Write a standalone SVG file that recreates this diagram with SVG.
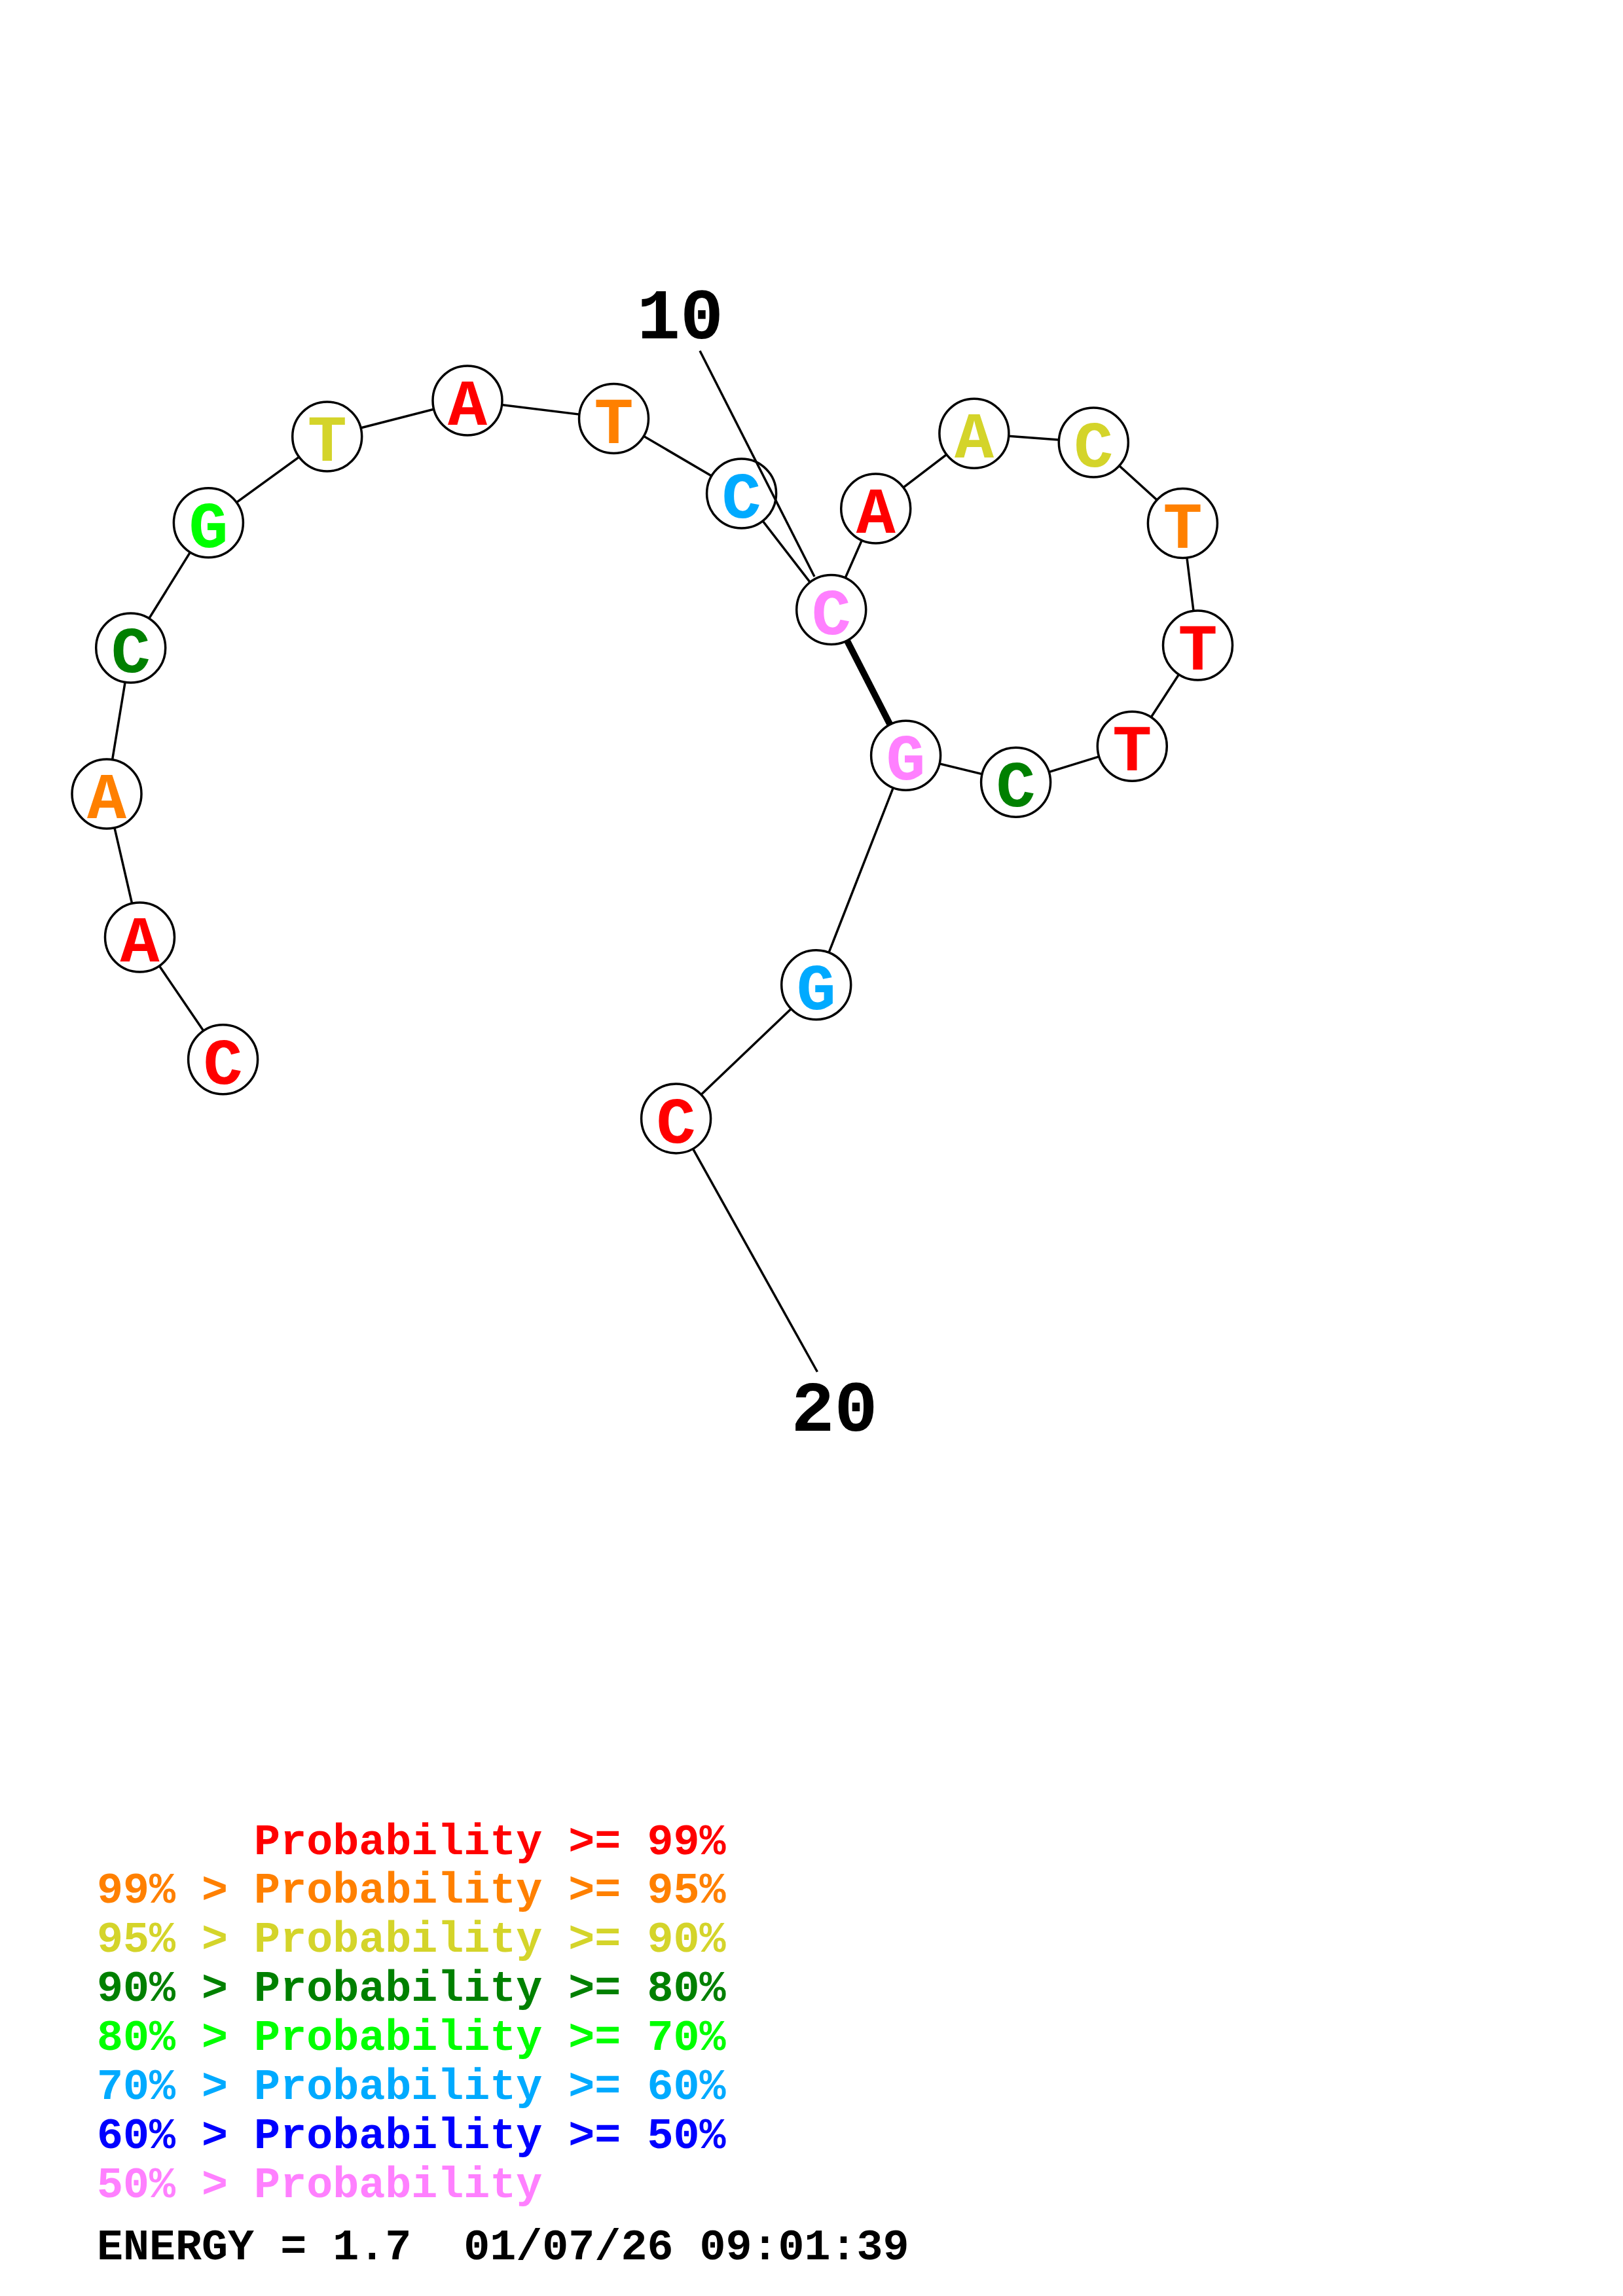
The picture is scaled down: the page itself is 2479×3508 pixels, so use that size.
<svg xmlns="http://www.w3.org/2000/svg" width="2479" height="3508" viewBox="0 0 2479 3508">
<style>
.bg{fill:#ffffff}
.ln{stroke:#000;stroke-width:3.5;fill:none}
.pair{stroke:#000;stroke-width:10;fill:none}
.nd circle{fill:#fff;stroke:#000;stroke-width:3.5}
.nd text{font-family:"Liberation Mono","Courier New",monospace;font-weight:bold;font-size:100px;text-anchor:middle}
.lbl{font-family:"Liberation Mono","Courier New",monospace;font-weight:bold;font-size:110px;text-anchor:middle;fill:#000}
.lg{font-family:"Liberation Mono","Courier New",monospace;font-weight:bold;font-size:66.7px;white-space:pre}
.r{fill:#ff0000}.o{fill:#ff8000}.y{fill:#d4d42a}.g{fill:#008000}.l{fill:#00ff00}.c{fill:#00aaff}.b{fill:#0000ff}.p{fill:#ff80ff}.k{fill:#000}
</style>
<rect class="bg" x="0" y="0" width="2479" height="3508"/>
<g id="connectors">
<polyline class="ln" points="340.6,1618.7 213.5,1432 163,1213 199.7,990 318.4,798.8 499.7,667 714,612 937.5,639.6 1132.6,754 1269.7,931.6 1337.7,777 1487.9,662.3 1670.3,676 1806.4,799.5 1829.5,986 1729.3,1140.3 1551.6,1195.2 1383.6,1154.2 1246.7,1504.8 1032.6,1708.9"/>
<line class="pair" x1="1269.7" y1="931.6" x2="1383.6" y2="1154.2"/>
<line class="ln" x1="1032.6" y1="1708.9" x2="1248.4" y2="2096"/>
</g>
<g id="n1" class="nd"><circle cx="340.6" cy="1618.7" r="53"/><text x="340.6" y="1655.7" class="r">C</text></g>
<g id="n2" class="nd"><circle cx="213.5" cy="1432" r="53"/><text x="213.5" y="1469" class="r">A</text></g>
<g id="n3" class="nd"><circle cx="163" cy="1213" r="53"/><text x="163" y="1250" class="o">A</text></g>
<g id="n4" class="nd"><circle cx="199.7" cy="990" r="53"/><text x="199.7" y="1027" class="g">C</text></g>
<g id="n5" class="nd"><circle cx="318.4" cy="798.8" r="53"/><text x="318.4" y="835.8" class="l">G</text></g>
<g id="n6" class="nd"><circle cx="499.7" cy="667" r="53"/><text x="499.7" y="704" class="y">T</text></g>
<g id="n7" class="nd"><circle cx="714" cy="612" r="53"/><text x="714" y="649" class="r">A</text></g>
<g id="n8" class="nd"><circle cx="937.5" cy="639.6" r="53"/><text x="937.5" y="676.6" class="o">T</text></g>
<g id="n9" class="nd"><circle cx="1132.6" cy="754" r="53"/><text x="1132.6" y="791" class="c">C</text></g>
<g id="n10" class="nd"><circle cx="1269.7" cy="931.6" r="53"/><text x="1269.7" y="968.6" class="p">C</text></g>
<g id="n11" class="nd"><circle cx="1337.7" cy="777" r="53"/><text x="1337.7" y="814" class="r">A</text></g>
<g id="n12" class="nd"><circle cx="1487.9" cy="662.3" r="53"/><text x="1487.9" y="699.3" class="y">A</text></g>
<g id="n13" class="nd"><circle cx="1670.3" cy="676" r="53"/><text x="1670.3" y="713" class="y">C</text></g>
<g id="n14" class="nd"><circle cx="1806.4" cy="799.5" r="53"/><text x="1806.4" y="836.5" class="o">T</text></g>
<g id="n15" class="nd"><circle cx="1829.5" cy="986" r="53"/><text x="1829.5" y="1023" class="r">T</text></g>
<g id="n16" class="nd"><circle cx="1729.3" cy="1140.3" r="53"/><text x="1729.3" y="1177.3" class="r">T</text></g>
<g id="n17" class="nd"><circle cx="1551.6" cy="1195.2" r="53"/><text x="1551.6" y="1232.2" class="g">C</text></g>
<g id="n18" class="nd"><circle cx="1383.6" cy="1154.2" r="53"/><text x="1383.6" y="1191.2" class="p">G</text></g>
<g id="n19" class="nd"><circle cx="1246.7" cy="1504.8" r="53"/><text x="1246.7" y="1541.8" class="c">G</text></g>
<g id="n20" class="nd"><circle cx="1032.6" cy="1708.9" r="53"/><text x="1032.6" y="1745.9" class="r">C</text></g>
<g id="labels">
<line class="ln" x1="1069" y1="536" x2="1244" y2="881"/>
<text class="lbl" x="1039" y="517">10</text>
<text class="lbl" x="1274.5" y="2186">20</text>
</g>
<g id="legend">
<text class="lg r" x="148" y="2833">      Probability &gt;= 99%</text>
<text class="lg o" x="148" y="2907">99% &gt; Probability &gt;= 95%</text>
<text class="lg y" x="148" y="2982">95% &gt; Probability &gt;= 90%</text>
<text class="lg g" x="148" y="3057">90% &gt; Probability &gt;= 80%</text>
<text class="lg l" x="148" y="3132">80% &gt; Probability &gt;= 70%</text>
<text class="lg c" x="148" y="3207">70% &gt; Probability &gt;= 60%</text>
<text class="lg b" x="148" y="3282">60% &gt; Probability &gt;= 50%</text>
<text class="lg p" x="148" y="3357">50% &gt; Probability</text>
<text class="lg k" x="148" y="3452">ENERGY = 1.7  01/07/26 09:01:39</text>
</g>
</svg>
